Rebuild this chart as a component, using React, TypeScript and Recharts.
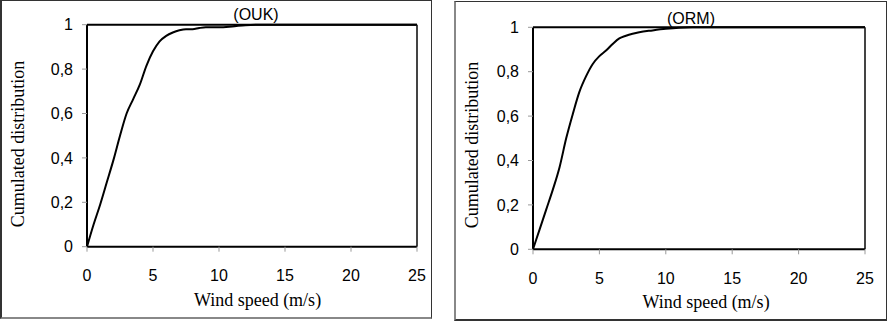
import { LineChart, Line, XAxis, YAxis, ReferenceLine } from "recharts"

// Wind speed (m/s) and cumulated distribution
const oukSpeed = [0, 0.5, 1, 1.5, 2, 2.5, 3, 3.5, 4, 4.5, 5, 5.5, 6, 6.5, 7, 7.5, 8, 8.5, 9, 10, 11, 12, 13, 25]
const oukCumul = [0, 0.1, 0.19, 0.29, 0.39, 0.5, 0.6, 0.665, 0.73, 0.815, 0.88, 0.925, 0.95, 0.965, 0.975, 0.98, 0.98, 0.985, 0.988, 0.988, 0.992, 0.998, 1, 1]

const ormSpeed = [0, 0.5, 1, 1.5, 2, 2.5, 3, 3.5, 4, 4.5, 5, 5.5, 6, 6.5, 7, 7.5, 8, 9, 10, 11, 12, 25]
const ormCumul = [0, 0.09, 0.18, 0.27, 0.37, 0.5, 0.61, 0.71, 0.78, 0.835, 0.87, 0.895, 0.925, 0.95, 0.962, 0.971, 0.978, 0.986, 0.993, 0.998, 1, 1]

const xTicks = [0, 5, 10, 15, 20, 25]
const yTicks = [0, 0.2, 0.4, 0.6, 0.8, 1]

const xTitle = "Wind speed (m/s)"
const yTitle = "Cumulated distribution"

const sans = "'Liberation Sans', Arial, sans-serif"
const serif = "'Liberation Serif', 'Times New Roman', serif"

const toRows = (xs: number[], ys: number[]) => xs.map((speed, i) => ({ speed, cumul: ys[i] }))

const fmtY = (v: number) => (v === 0 || v === 1 ? String(v) : v.toFixed(1).replace(".", ","))

interface PanelProps {
    title: string
    rows: { speed: number; cumul: number }[]
    left: number
    top: number
    width: number
    height: number
    plot: { left: number; right: number; top: number; bottom: number }
    border: string[]
    titlePos: [number, number]
    xTitlePos: [number, number]
    yTitlePos: [number, number]
}

const Panel = ({ title, rows, left, top, width, height, plot, border, titlePos, xTitlePos, yTitlePos }: PanelProps) => {
    const tickStyle = { fontFamily: sans, fontSize: 16, fill: "#000" }
    return (
        <div style={{ position: "absolute", left, top, width, height }}>
            <LineChart
                width={width}
                height={height}
                data={rows}
                margin={{ top: plot.top, right: width - plot.right, left: 0, bottom: 0 }}
            >
                <XAxis
                    type="number"
                    dataKey="speed"
                    domain={[0, 25]}
                    ticks={xTicks}
                    interval={0}
                    height={height - plot.bottom}
                    axisLine={{ stroke: "#000", strokeWidth: 2 }}
                    tickLine={{ stroke: "#999" }}
                    tickSize={5}
                    tickMargin={18}
                    tick={tickStyle}
                />
                <YAxis
                    type="number"
                    domain={[0, 1]}
                    ticks={yTicks}
                    interval={0}
                    width={plot.left}
                    axisLine={{ stroke: "#000", strokeWidth: 2 }}
                    tickLine={{ stroke: "#999" }}
                    tickSize={5}
                    tickMargin={9}
                    tick={tickStyle}
                    tickFormatter={fmtY}
                />
                <ReferenceLine y={1} stroke="#000" strokeWidth={2} />
                <ReferenceLine x={25} stroke="#444" strokeWidth={2} />
                <Line
                    type="monotone"
                    dataKey="cumul"
                    stroke="#000"
                    strokeWidth={2}
                    dot={false}
                    isAnimationActive={false}
                />
            </LineChart>

            {/* frame */}
            <div
                style={{
                    position: "absolute",
                    inset: 0,
                    boxSizing: "border-box",
                    borderTop: border[0],
                    borderRight: border[1],
                    borderBottom: border[2],
                    borderLeft: border[3],
                    pointerEvents: "none",
                }}
            />

            <div style={{ position: "absolute", left: titlePos[0], top: titlePos[1], transform: "translate(-50%, -50%)", fontFamily: sans, fontSize: 16, lineHeight: 1, whiteSpace: "nowrap" }}>
                {title}
            </div>
            <div style={{ position: "absolute", left: xTitlePos[0], top: xTitlePos[1], transform: "translate(-50%, -50%)", fontFamily: serif, fontSize: 18, lineHeight: 1, whiteSpace: "nowrap" }}>
                {xTitle}
            </div>
            <div style={{ position: "absolute", left: yTitlePos[0], top: yTitlePos[1], transform: "translate(-50%, -50%) rotate(-90deg)", fontFamily: serif, fontSize: 18, lineHeight: 1, whiteSpace: "nowrap" }}>
                {yTitle}
            </div>
        </div>
    )
}

export default function App() {
    return (
        <div style={{ position: "absolute", left: 0, top: 0, width: 887, height: 321, background: "#fff" }}>
            <Panel
                title="(OUK)"
                rows={toRows(oukSpeed, oukCumul)}
                left={0}
                top={0}
                width={432}
                height={319}
                plot={{ left: 87, right: 417, top: 24.7, bottom: 246.7 }}
                border={["1px solid #333", "1px solid #333", "2px solid #888", "2px solid #333"]}
                titlePos={[256, 15]}
                xTitlePos={[257.5, 300]}
                yTitlePos={[18, 143.5]}
            />
            <Panel
                title="(ORM)"
                rows={toRows(ormSpeed, ormCumul)}
                left={454}
                top={1}
                width={433}
                height={320}
                plot={{ left: 79, right: 411, top: 26.3, bottom: 248.3 }}
                border={["1px solid #333", "1px solid #333", "2px solid #333", "2px solid #888"]}
                titlePos={[237, 18]}
                xTitlePos={[252, 301]}
                yTitlePos={[18, 144]}
            />
        </div>
    )
}
